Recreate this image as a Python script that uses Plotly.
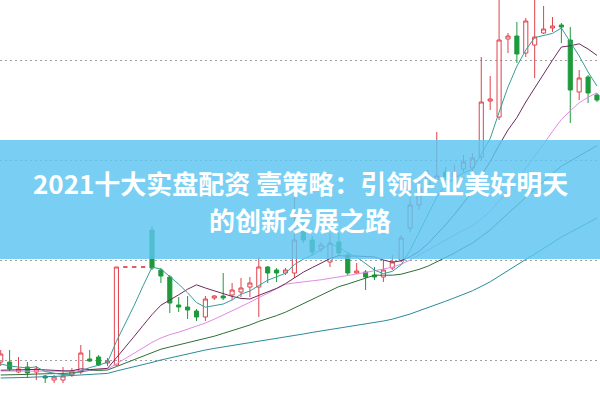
import plotly.graph_objects as go

# ---- data (prices) ----
open_ = [11.90, 11.90, 11.40, 11.65, 11.40, 11.20, 11.00, 11.00, 11.25, 11.40, 12.05, 12.15, 11.85, 11.75,
         16.65, 16.65, 16.65,
         18.50, 16.50, 16.15, 14.75, 14.65, 14.45, 14.15, 15.10, 15.20, 15.25, 15.40, 15.65, 15.65,
         16.65, 16.50, 16.35, 16.35, 18.60, 18.00, 17.55, 16.90, 17.90, 17.25, 16.35, 16.40, 16.25, 16.15, 16.60, 17.00,
         18.60, 19.75, 20.75, 21.00, 21.40, 21.15, 21.55, 21.60, 22.15, 24.95, 24.15,
         28.05, 28.20, 27.35, 27.75, 28.35, 28.60, 28.75, 28.00, 25.40, 26.15, 25.25]
high = [12.50, 12.50, 12.15, 11.90, 11.70, 11.25, 11.25, 11.65, 11.60, 12.75, 12.50, 12.25, 12.10, 16.65,
        16.65, 16.65, 16.65,
        18.70, 16.60, 16.25, 15.15, 15.20, 14.55, 15.20, 15.25, 16.35, 15.85, 16.10, 16.15, 17.15,
        16.70, 16.60, 16.60, 20.25, 18.85, 18.20, 17.90, 18.35, 18.35, 17.40, 16.85, 16.50, 16.65, 17.00, 17.25, 18.25,
        20.50, 21.10, 21.50, 23.40, 21.65, 21.75, 22.25, 22.35, 27.15, 26.20, 30.25,
        28.35, 28.90, 29.10, 30.15, 29.70, 29.15, 28.85, 28.65, 26.50, 26.25, 25.35]
low = [11.70, 11.45, 11.35, 11.10, 11.00, 10.85, 10.85, 10.85, 11.15, 11.30, 11.90, 11.70, 11.70, 11.70,
       16.65, 16.65, 16.65,
       16.50, 15.85, 14.35, 14.40, 14.05, 13.95, 13.95, 15.00, 15.00, 15.00, 15.15, 15.15, 14.15,
       15.85, 15.90, 16.25, 16.10, 17.85, 17.20, 17.40, 16.65, 17.20, 16.25, 16.30, 15.50, 16.00, 15.90, 16.50, 16.90,
       18.40, 19.50, 20.50, 20.90, 21.00, 21.00, 21.40, 21.40, 22.00, 24.50, 24.00,
       27.35, 26.85, 27.15, 26.10, 28.30, 28.40, 27.85, 23.85, 25.00, 24.85, 24.90]
close = [12.30, 11.55, 11.55, 11.35, 11.55, 11.10, 11.15, 11.20, 11.45, 12.35, 11.95, 11.75, 11.95, 16.65,
         16.65, 16.65, 16.65,
         16.60, 16.20, 14.85, 14.65, 14.50, 14.15, 15.05, 15.20, 15.10, 15.50, 15.60, 15.85, 16.65,
         16.35, 16.35, 16.50, 18.00, 18.00, 17.40, 17.75, 17.85, 17.35, 16.35, 16.45, 16.15, 16.15, 16.50, 16.90, 18.10,
         19.75, 20.60, 21.10, 21.20, 21.15, 21.40, 21.90, 22.10, 24.90, 25.05, 28.00,
         28.20, 27.30, 28.95, 28.15, 28.55, 28.70, 28.65, 25.50, 26.10, 25.35, 25.00]

ma5 = [11.80, 11.70, 11.65, 11.60, 11.66, 11.42, 11.34, 11.27, 11.29, 11.45, 11.62, 11.74, 11.89, 12.93,
       13.79, 14.73, 15.71, 16.64, 16.55, 16.19, 15.79, 15.36, 14.87, 14.64, 14.71, 14.80, 15.00, 15.29,
       15.45, 15.74, 15.99, 16.16, 16.34, 16.77, 17.04, 17.25, 17.53, 17.80, 17.67, 17.34, 17.15, 16.83,
       16.49, 16.32, 16.43, 16.76, 17.48, 18.37, 19.29, 20.15, 20.76, 21.09, 21.35, 21.55, 22.29, 23.07,
       24.39, 25.65, 26.69, 27.50, 28.12, 28.23, 28.33, 28.60, 27.90, 27.20, 26.40, 25.70]
ma10 = [11.49, 11.51, 11.52, 11.52, 11.53, 11.50, 11.48, 11.46, 11.46, 11.56, 11.52, 11.54, 11.58, 12.11,
        12.62, 13.18, 13.73, 14.27, 14.74, 14.99, 15.26, 15.54, 15.76, 15.60, 15.45, 15.30, 15.18, 15.08,
        15.05, 15.23, 15.40, 15.58, 15.82, 16.11, 16.39, 16.62, 16.85, 17.07, 17.22, 17.19, 17.20, 17.18,
        17.15, 17.00, 16.89, 16.96, 17.16, 17.43, 17.81, 18.29, 18.76, 19.29, 19.86, 20.42, 21.22, 21.92,
        22.74, 23.50, 24.12, 24.90, 25.60, 26.31, 26.99, 27.65, 27.71, 27.81, 27.55, 27.23]
ma20 = [11.45, 11.45, 11.46, 11.46, 11.47, 11.45, 11.44, 11.43, 11.43, 11.48, 11.51, 11.52, 11.54, 11.81,
        12.06, 12.34, 12.61, 12.88, 13.10, 13.27, 13.39, 13.54, 13.67, 13.85, 14.04, 14.24, 14.45, 14.67,
        14.89, 15.11, 15.33, 15.56, 15.79, 15.85, 15.92, 15.96, 16.01, 16.08, 16.13, 16.21, 16.30, 16.38,
        16.48, 16.55, 16.64, 16.79, 17.00, 17.25, 17.51, 17.74, 17.98, 18.23, 18.50, 18.71, 19.05, 19.44,
        19.95, 20.47, 20.96, 21.59, 22.18, 22.80, 23.43, 24.03, 24.46, 24.86, 25.14, 25.36]
ma30 = [11.25, 11.25, 11.28, 11.28, 11.30, 11.30, 11.30, 11.33, 11.35, 11.40, 11.48, 11.48, 11.50, 11.67,
        11.84, 12.03, 12.21, 12.39, 12.54, 12.65, 12.76, 12.86, 12.95, 13.07, 13.19, 13.33, 13.47, 13.62,
        13.75, 13.93, 14.06, 14.22, 14.39, 14.61, 14.82, 15.03, 15.25, 15.47, 15.67, 15.80, 15.95, 16.10,
        16.24, 16.24, 16.24, 16.29, 16.40, 16.53, 16.69, 16.90, 17.12, 17.35, 17.61, 17.84, 18.17, 18.50,
        18.92, 19.34, 19.72, 20.13, 20.52, 20.93, 21.33, 21.69, 21.94, 22.23, 22.48, 22.72]
ma60 = [11.10, 11.10, 11.10, 11.13, 11.15, 11.15, 11.18, 11.20, 11.23, 11.25, 11.28, 11.30, 11.33, 11.45,
        11.55, 11.65, 11.75, 11.88, 12.00, 12.10, 12.23, 12.33, 12.43, 12.50, 12.58, 12.65, 12.73, 12.78,
        12.85, 12.93, 13.00, 13.08, 13.15, 13.23, 13.30, 13.38, 13.45, 13.53, 13.60, 13.65, 13.72, 13.79,
        13.87, 13.95, 14.04, 14.16, 14.30, 14.46, 14.61, 14.78, 14.94, 15.11, 15.28, 15.46, 15.68, 15.91,
        16.19, 16.48, 16.73, 17.03, 17.29, 17.57, 17.86, 18.15, 18.38, 18.63, 18.87, 19.10]

title_line1 = "2021十大实盘配资 壹策略：引领企业美好明天"
title_line2 = "的创新发展之路"

days = list(range(len(close)))

RED = "#e0424c"
GREEN = "#1e9a3c"

fig = go.Figure()

ma_styles = [
    (ma60, "#2b8a9b"),
    (ma30, "#2f6e35"),
    (ma20, "#e488e6"),
    (ma10, "#6e2a5e"),
    (ma5, "#3a9c96"),
]
for vals, col in ma_styles:
    fig.add_trace(go.Scatter(x=days, y=vals, mode="lines",
                             line=dict(color=col, width=1), hoverinfo="skip"))

fig.add_trace(go.Candlestick(
    x=days, open=open_, high=high, low=low, close=close,
    increasing=dict(line=dict(color=RED, width=1), fillcolor="rgba(0,0,0,0)"),
    decreasing=dict(line=dict(color=GREEN, width=1), fillcolor=GREEN),
    whiskerwidth=0,
))

fig.add_shape(type="rect", xref="paper", yref="paper", x0=0, x1=1,
              y0=1 - 259 / 400, y1=1 - 140 / 400, layer="above",
              line=dict(width=0), fillcolor="rgba(92,196,240,0.82)")

font = dict(family="Noto Sans CJK SC", size=26, color="white")
fig.add_annotation(text="<b>" + title_line1 + "</b>", xref="paper", yref="paper",
                   x=0.5, y=1 - 182 / 400, xanchor="center", yanchor="middle",
                   showarrow=False, font=font)
fig.add_annotation(text="<b>" + title_line2 + "</b>", xref="paper", yref="paper",
                   x=0.5, y=1 - 219 / 400, xanchor="center", yanchor="middle",
                   showarrow=False, font=font)

fig.update_layout(
    width=600, height=400,
    margin=dict(l=0, r=0, t=0, b=0),
    paper_bgcolor="white", plot_bgcolor="white",
    showlegend=False,
    boxgap=0.34,
    xaxis=dict(range=[-0.08, 67.34], visible=False, rangeslider=dict(visible=False),
               showgrid=False, fixedrange=True),
    yaxis=dict(range=[10, 30], showticklabels=False, zeroline=False,
               showgrid=True, gridcolor="#a0a0a0", gridwidth=1, griddash="2px,3px",
               tick0=12, dtick=5, ticks="", showline=False),
)

fig.write_html("out.html", config={"displayModeBar": False},
               post_script="document.body.style.margin='0';")
